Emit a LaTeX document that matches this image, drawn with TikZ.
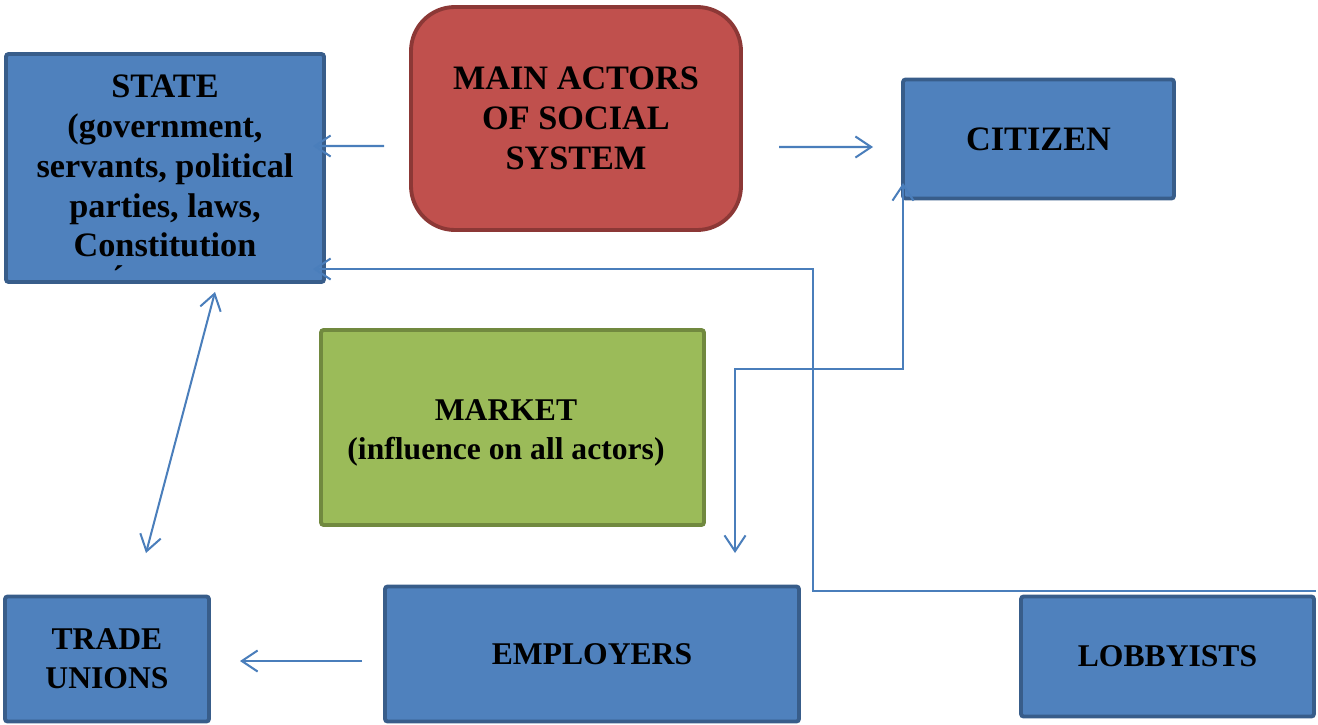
\documentclass[tikz,border=0pt]{standalone}
\usepackage{fontspec}
\setmainfont{Liberation Serif}
\usetikzlibrary{arrows.meta}
\definecolor{bfill}{HTML}{4F81BD}
\definecolor{bdraw}{HTML}{385D8A}
\definecolor{rfill}{HTML}{C0504D}
\definecolor{rdraw}{HTML}{8C3836}
\definecolor{gfill}{HTML}{9BBB59}
\definecolor{gdraw}{HTML}{71893F}
\definecolor{arrc}{HTML}{4A7EBB}
\begin{document}
\begin{tikzpicture}[x=0.02cm,y=-0.02cm,
  lbl/.style={font=\fontsize{19.5}{22.7}\selectfont\bfseries, align=center, text=black},
  slbl/.style={font=\fontsize{18}{22.2}\selectfont\bfseries, align=center, text=black},
  boxsize/.style 2 args={minimum width=#1*0.02cm, minimum height=#2*0.02cm},
  bluebox/.style={draw=bdraw, fill=bfill, line width=2.2pt, rounded corners=1.5pt, inner sep=0pt, outer sep=0pt, lbl},
  redbox/.style={draw=rdraw, fill=rfill, line width=2.2pt, rounded corners=25pt, inner sep=0pt, outer sep=0pt, lbl},
  greenbox/.style={draw=gdraw, fill=gfill, line width=2.2pt, rounded corners=1.5pt, inner sep=0pt, outer sep=0pt, lbl},
  barb/.tip={Straight Barb[length=9pt,width=12pt]},
  arr/.style={draw=arrc, line width=1.15pt, -barb},
  darr/.style={draw=arrc, line width=1.15pt, barb-barb}
]
\useasboundingbox (0,0) rectangle (1318,724);

\node[bluebox, boxsize={318}{228}] (state) at (165,168) {};
\node[lbl, inner sep=0pt] (statetext) at (165,166) {STATE\\(government,\\servants, political\\parties, laws,\\Constitution};
\node[lbl, inner sep=0pt, anchor=base] (stateacc) at (118,289) {´};

\node[redbox, boxsize={330}{223}] (main) at (576,118.5) {MAIN ACTORS\\OF SOCIAL\\SYSTEM};
\node[bluebox, boxsize={271}{119}] (citizen) at (1038.5,139) {CITIZEN};
\node[greenbox, boxsize={383}{195}] (market) at (512.5,427.5) {};
\node[slbl, inner sep=0pt] (markettext) at (506,433) {MARKET\\(influence on all actors)};
\node[bluebox, boxsize={204}{125}, slbl] (trade) at (107,659) {TRADE\\UNIONS};
\node[bluebox, boxsize={414}{135}, slbl] (employers) at (592,654) {EMPLOYERS};
\node[bluebox, boxsize={293}{120}, slbl] (lobby) at (1167.5,656.5) {LOBBYISTS};

\draw[arr] ([shift={(-27,27.5)}]main.west) -- ([shift={(-11,-22)}]state.east);
\draw[arr] ([shift={(38,28.5)}]main.east) -- ([shift={(-30,8)}]citizen.west);
\draw[arr] ([shift={(2,-5.5)}]lobby.north east) -- ++(-503,0) -- ++(0,-322) -- ([shift={(-11,-13)}]state.south east);
\draw[darr] ([shift={(0,-15.5)}]citizen.south west) -- ++(0,186) -- ++(-168,0) -- ([shift={(350,-33.5)}]employers.north west);
\draw[darr] ([shift={(50,10)}]state.south) -- ([shift={(39,-43.5)}]trade.north);
\draw[arr] ([shift={(-23,7)}]employers.west) -- ([shift={(31,2)}]trade.east);
\end{tikzpicture}
\end{document}
